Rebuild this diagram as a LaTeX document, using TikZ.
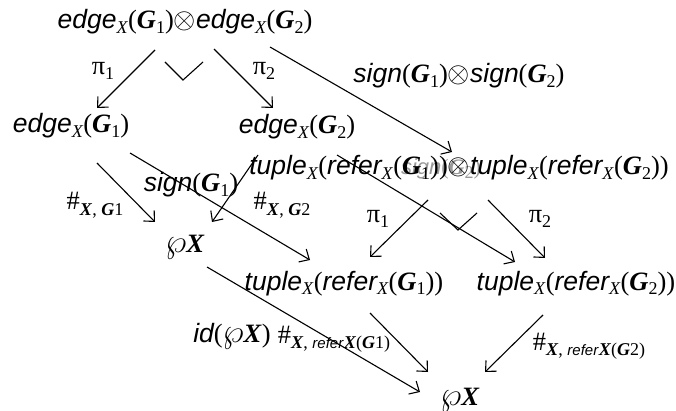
\documentclass[tikz,border=0pt]{standalone}
\usepackage{fontspec}
\setmainfont{Liberation Serif}
\setsansfont{Liberation Sans}
\usetikzlibrary{arrows.meta}
\newcommand\Sb[1]{\raisebox{-0.35ex}{\fontsize{18}{18}\selectfont #1}}
\newcommand\Gb{\textbf{\textit{G}}}
\newcommand\aw[1]{{\sffamily\itshape #1}}
\newcommand\edgeX[1]{\aw{edge}\Sb{\textit{X}}(\Gb\Sb{#1})}
\newcommand\tupX[1]{\aw{tuple}\Sb{\textit{X}}(\aw{refer}\Sb{\textit{X}}(\Gb\Sb{#1}))}
\newcommand\wpX{\scalebox{1.35}{$\wp$}\textbf{\textit{X}}}
\newcommand\ot{\scalebox{1.15}{$\otimes$}}
\newcommand\hsub[1]{\#\raisebox{-0.45ex}{\fontsize{18}{18}\selectfont #1}}
\newcommand\rsub[1]{{\fontsize{15}{15}\selectfont\aw{refer}}\textbf{\textit{X}}(\Gb #1)}
\begin{document}
\begin{tikzpicture}[x=1pt,y=-1pt,
  lbl/.style={inner sep=0pt,anchor=base,font=\fontsize{26.5}{30}\selectfont},
  arr/.style={-{Straight Barb[length=8pt,width=15pt]},line width=1.1pt},
  corner/.style={line width=1.1pt}]
\fill[white] (0,0) rectangle (676,411);
\useasboundingbox (0,0) rectangle (676,411);
% objects
\node[lbl] (top) at (185,29) {\edgeX{1}\ot\edgeX{2}};
\node[lbl] (e1) at (71,133) {\edgeX{1}};
\node[lbl] (e2) at (297,134) {\edgeX{2}};
\node[lbl,text=black!40,font=\fontsize{22}{26}\selectfont] (ghost) at (441,175) {\aw{sign}(\Gb\Sb{2})};
\node[lbl] (tt) at (459,175) {\tupX{1}\ot\tupX{2}};
\node[lbl] (p1) at (185,253) {\wpX};
\node[lbl] (t1) at (344,290) {\tupX{1}};
\node[lbl] (t2) at (576,290) {\tupX{2}};
\node[lbl] (p2) at (460,405) {\wpX};
% labels
\node[lbl] (lpi1) at (103,75) {π\Sb{1}};
\node[lbl] (lpi2) at (264,75) {π\Sb{2}};
\node[lbl] (lss) at (459,83) {\aw{sign}(\Gb\Sb{1})\ot\aw{sign}(\Gb\Sb{2})};
\node[lbl] (lsg) at (191,192) {\aw{sign}(\Gb\Sb{1})};
\node[lbl] (lh1) at (95,210) {\hsub{\textbf{\textit{X}}, \Gb1}};
\node[lbl] (lh2) at (282,210) {\hsub{\textbf{\textit{X}}, \Gb2}};
\node[lbl] (lpi3) at (378,223) {π\Sb{1}};
\node[lbl] (lpi4) at (540,223) {π\Sb{2}};
\node[lbl] (lid) at (232,342) {\aw{id}(\wpX)};
\node[lbl] (lr1) at (334,343) {\hsub{\textbf{\textit{X}}, \rsub{1}}};
\node[lbl] (lr2) at (589,350) {\hsub{\textbf{\textit{X}}, \rsub{2}}};
% connector endpoints
\coordinate (a1s) at (155,50);  \coordinate (a1e) at (97,108);
\coordinate (a2s) at (214,49);  \coordinate (a2e) at (273,108);
\coordinate (a3s) at (270,47);  \coordinate (a3e) at (452,152);
\coordinate (a4s) at (97,163);  \coordinate (a4e) at (155,222);
\coordinate (a5s) at (130,153); \coordinate (a5e) at (310,260);
\coordinate (a6s) at (258,155); \coordinate (a6e) at (212,222);
\coordinate (a7s) at (337,155); \coordinate (a7e) at (515,262);
\coordinate (a8s) at (428,200); \coordinate (a8e) at (370,257);
\coordinate (a9s) at (488,200); \coordinate (a9e) at (545,258);
\coordinate (a10s) at (207,267); \coordinate (a10e) at (420,392);
\coordinate (a11s) at (370,313); \coordinate (a11e) at (428,372);
\coordinate (a12s) at (543,315); \coordinate (a12e) at (485,372);
\draw[arr] (a1s) -- (a1e);
\draw[arr] (a2s) -- (a2e);
\draw[arr] (a3s) -- (a3e);
\draw[arr] (a4s) -- (a4e);
\draw[arr] (a5s) -- (a5e);
\draw[arr] (a6s) -- (a6e);
\draw[arr] (a7s) -- (a7e);
\draw[arr] (a8s) -- (a8e);
\draw[arr] (a9s) -- (a9e);
\draw[arr] (a10s) -- (a10e);
\draw[arr] (a11s) -- (a11e);
\draw[arr] (a12s) -- (a12e);
% pullback corners
\coordinate (c1a) at (165,62); \coordinate (c1b) at (183,80); \coordinate (c1c) at (203,62);
\coordinate (c2a) at (440,213); \coordinate (c2b) at (458,230); \coordinate (c2c) at (477,213);
\draw[corner] (c1a) -- (c1b) -- (c1c);
\draw[corner] (c2a) -- (c2b) -- (c2c);
\end{tikzpicture}
\end{document}
